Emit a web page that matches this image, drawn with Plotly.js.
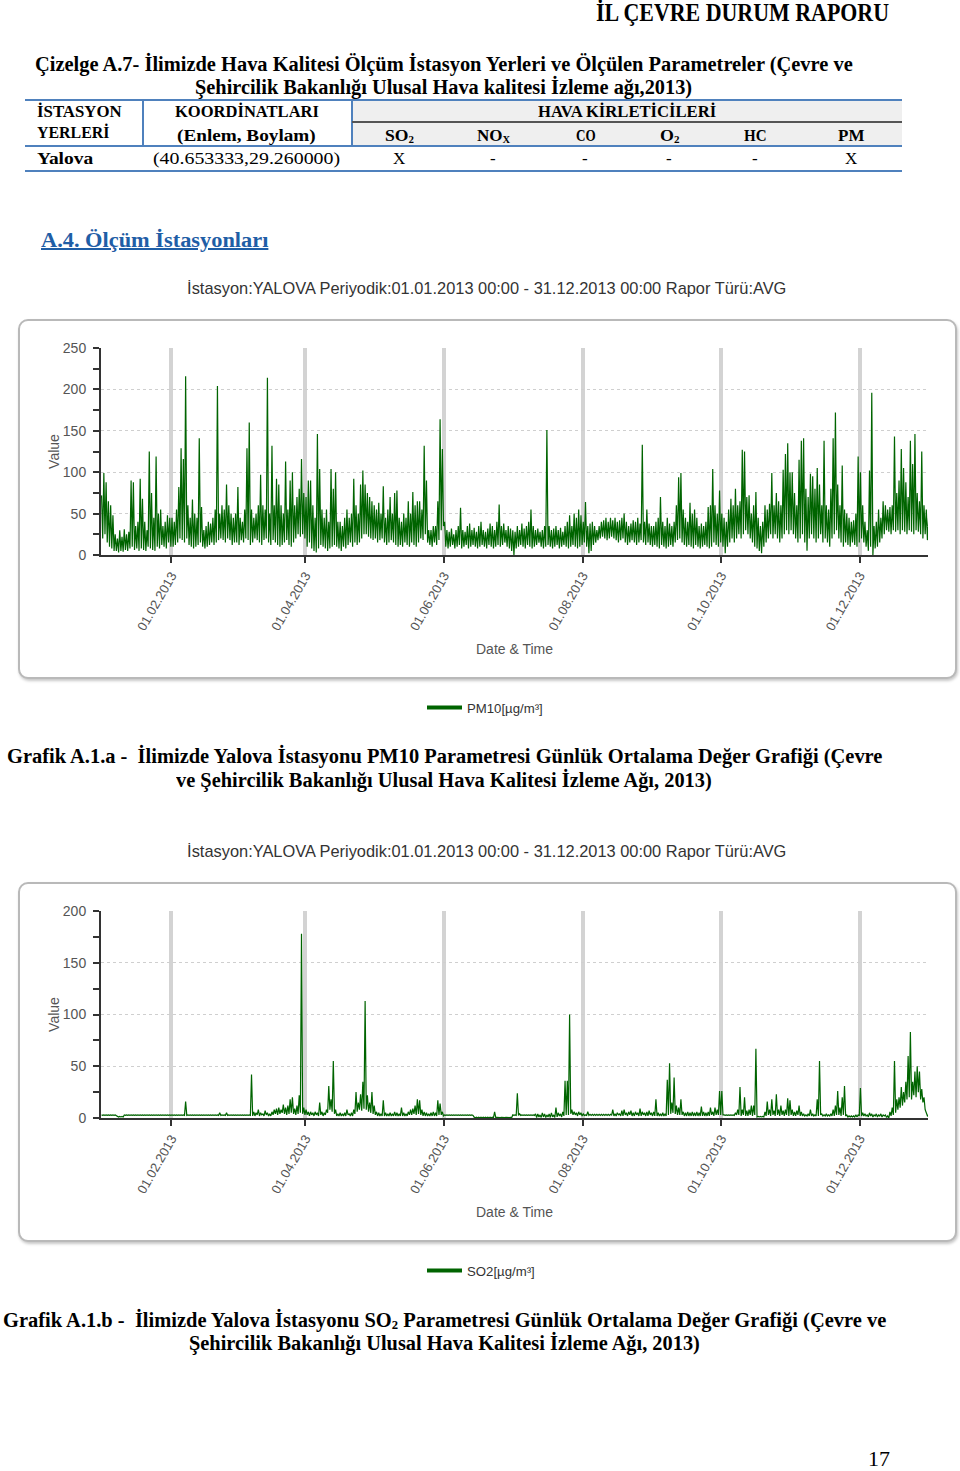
<!DOCTYPE html>
<html>
<head>
<meta charset="utf-8">
<script src="https://cdn.plot.ly/plotly-3.0.1.min.js"></script>
<style>
  body { margin: 0; width: 960px; height: 1471px; position: relative; background: #fff; overflow: hidden; }
  .t { position: absolute; white-space: nowrap; transform-origin: 0 50%; font-family: "Liberation Serif", "Times New Roman", serif; font-weight: bold; color: #000; }
  .t sub { font-size: 0.62em; vertical-align: -0.15em; line-height: 0; }
  .ln { position: absolute; }
  .box { position: absolute; left: 18px; width: 935px; height: 356px; border: 2px solid #b9b9b9; border-radius: 10px; box-shadow: 1px 2px 3px rgba(0,0,0,0.22); background: #fff; }
  .chart { position: absolute; left: 0; width: 960px; height: 460px; }
</style>
</head>
<body>
<div class="box" style="top:319px"></div>
<div class="box" style="top:882px"></div>
<div id="chartPM" class="chart" style="top:265px"></div>
<div id="chartSO2" class="chart" style="top:828px"></div>
<script>
// ---- data (two readings per day: daily peak, daily trough) ----
const monthNames = ['Jan','Feb','Mar','Apr','May','Jun','Jul','Aug','Sep','Oct','Nov','Dec'];

const pm10Peaks = [
  [72,99,88,65,60,48,25,20,30,22,31,25,28,90,88,35,40,92,68,40,30,125,75,45,119,50,55,35,40,48,45],     // Jan
  [45,40,55,82,129,116,216,60,45,67,50,45,141,58,30,35,40,38,45,55,204,50,60,55,85,60,50,45],            // Feb
  [50,82,45,40,55,129,160,55,45,50,60,97,60,55,214,50,132,60,92,85,60,50,113,55,90,100,60,70,80,116,75], // Mar
  [70,90,90,60,45,146,104,55,45,55,40,104,80,100,40,40,35,45,55,45,50,92,60,50,85,102,85,75,70,65],      // Apr
  [60,55,63,50,83,45,55,70,50,75,78,45,40,50,45,65,50,76,60,65,65,55,132,90,30,30,35,35,65,164,128],     // May
  [40,30,28,32,25,30,35,57,30,28,35,38,30,33,28,35,40,30,28,32,38,35,30,40,61,35,38,30,35,32],           // Jun
  [30,28,35,30,38,32,35,40,55,35,30,32,28,30,35,151,35,30,32,35,30,33,28,35,40,48,35,50,45,55,48],       // Jul
  [40,64,35,38,40,35,30,35,40,42,45,40,45,42,45,40,42,45,50,40,35,38,42,40,45,38,133,40,55,38,35],       // Aug
  [35,40,45,70,40,35,45,38,35,40,60,94,99,55,45,40,63,50,55,45,35,38,35,40,58,60,104,60,50,78],          // Sep
  [50,45,40,55,68,60,80,60,65,127,125,70,72,50,60,76,45,35,40,60,55,62,99,60,75,65,60,103,122,135,100],  // Oct
  [100,75,60,115,138,141,80,70,98,95,80,105,85,60,138,60,55,80,141,172,85,60,108,55,50,45,40,42,50,119], // Nov
  [100,60,40,30,102,196,35,40,55,45,65,60,55,58,60,143,75,90,128,105,88,70,138,110,146,75,65,125,60,55,45] // Dec
];
const pm10Troughs = [
  [20,25,15,10,8,5,5,3,5,4,6,5,8,10,6,8,5,8,6,5,10,8,6,5,10,8,12,10,8,15,10],
  [10,12,15,20,18,15,20,12,10,8,10,12,15,10,8,10,12,15,12,15,18,20,18,15,20,18,12,15],
  [15,12,18,15,20,18,12,15,20,18,15,12,18,20,15,12,18,15,12,10,12,15,18,12,10,15,20,25,22,25,20],
  [10,15,8,5,3,8,12,10,8,5,8,10,12,10,8,5,10,8,12,15,10,15,12,15,20,25,25,22,20,18],
  [20,15,18,20,15,12,15,18,15,12,10,12,10,15,12,10,15,12,10,15,20,18,25,15,12,10,15,12,18,30,35],
  [10,8,10,12,8,10,12,8,10,12,8,10,12,10,8,10,12,10,8,12,10,8,10,12,10,12,15,10,8,5],
  [0,8,10,12,10,8,12,10,8,10,12,15,10,8,10,12,10,8,10,12,8,10,12,10,8,10,12,10,8,10,12],
  [15,10,2,5,12,15,18,20,22,20,18,20,22,20,18,15,18,20,15,12,15,18,15,12,15,18,15,12,15,12,10],
  [12,10,8,12,10,8,10,12,10,15,18,20,15,12,10,12,10,8,12,10,8,10,12,10,8,10,15,12,10,15],
  [10,2,10,15,20,15,20,25,20,25,30,25,20,15,10,8,5,2,10,15,20,25,20,25,20,15,20,25,30,25,30],
  [25,20,15,20,25,15,5,20,25,20,15,20,25,15,20,15,10,20,25,30,20,15,10,15,12,10,15,12,10,15],
  [20,15,10,5,10,0,8,10,15,20,25,30,28,25,30,28,30,25,30,28,25,30,28,25,30,28,25,20,25,18,15]
];

const so2Peaks = [
  [3,3,3,3,3,3,3,1.5,1.5,1.5,3,3,3,3,3,3,3,3,3,3,3,3,3,3,3,3,3,3,3,3,3],
  [3,3,3,3,3,3,16,3,3,3,3,3,3,3,3,3,3,3,3,3,3,5,3,3,5,3,3,3],
  [3,3,3,3,3,3,3,42,6,5,8,5,4,7,5,4,6,8,9,10,8,13,10,12,18,20,9,12,22,178,10],
  [8,6,6,5,6,5,15,6,5,8,31,18,55,8,4,5,4,5,8,4,5,8,25,15,23,35,113,22,15,25],
  [12,6,5,4,17,5,4,5,4,6,5,4,10,5,4,6,8,9,12,18,17,8,6,5,4,5,6,5,17,14,6],
  [3,3,3,3,3,3,3,3,3,3,3,3,3,0.8,0.8,0.8,0.8,0.8,0.8,0.8,0.8,0.8,6,0.6,0.6,0.6,0.6,0.6,0.6,0.6],
  [3,3,24,4,3,3,3,3,3,3,4,4,3,5,4,3,4,5,3,10,5,4,6,36,36,100,8,6,5,6,5],
  [4,3,6,3.5,3.5,3.5,3.5,3.5,3.5,3.5,3.5,3.5,3.5,8,4,5,4,7,8,5,6,7,5,6,5,9,6,5,6,7,5],
  [6,18,5,4,5,4,37,53,15,39,12,10,18,6,5,6,5,6,5,6,5,11,6,5,6,10,6,10,8,26],
  [26,3,3,3,3,3,5,8,30,8,20,7,8,12,12,67,1.5,1.5,1.5,6,16,8,18,7,23,8,12,7,8,19,17],
  [8,6,7,12,6,4,3,4,8,4,3,18,55,4,3,4,3,4,8,12,26,10,20,31,3,2,2,2,3,3],
  [29,5,4,3,5,4,3,4,3,4,3,3,2,6,10,55,18,20,30,25,35,60,83,35,45,50,45,28,20,5,3]
];
const so2Troughs = [
  [2.5,2.5,2.5,2.5,2.5,2.5,2.5,1,1,1,2.5,2.5,2.5,2.5,2.5,2.5,2.5,2.5,2.5,2.5,2.5,2.5,2.5,2.5,2.5,2.5,2.5,2.5,2.5,2.5,2.5],
  [2.5,2.5,2.5,2.5,2.5,2.5,2.5,2.5,2.5,2.5,2.5,2.5,2.5,2.5,2.5,2.5,2.5,2.5,2.5,2.5,2.5,2.5,2.5,2.5,2.5,2.5,2.5,2.5],
  [2.5,2.5,2.5,2.5,2.5,2.5,2.5,2,2,3,2,3,2,3,2,2,3,4,3,4,5,4,3,4,5,4,3,4,5,4,3],
  [3,2,3,2,3,2,3,2,3,5,8,6,4,2,2,2,2,2,3,2,2,4,6,8,7,9,8,6,5,4],
  [3,2,2,2,2,2,2,2,2,2,2,2,2,2,2,3,3,4,3,4,3,2,2,2,2,2,2,2,3,3,2],
  [2.5,2.5,2.5,2.5,2.5,2.5,2.5,2.5,2.5,2.5,2.5,2.5,2.5,0.3,0.3,0.3,0.3,0.3,0.3,0.3,0.3,0.3,0.4,0.3,0.3,0.3,0.3,0.3,0.3,0.3],
  [2.5,2.5,2.5,2.5,2.5,2.5,2.5,2.5,2.5,2.5,0.5,1,0.5,1,0.5,1,0.5,1,0.5,1,2,1,2,3,3,4,3,3,2,3,2],
  [2.5,2.5,2.5,2.5,2.5,2.5,2.5,2.5,2.5,2.5,2.5,2.5,2.5,2,2,3,2,2,3,2,3,2,2,3,2,2,3,2,2,3,2],
  [2,2,2,2,2,2,3,4,5,4,3,3,3,2,2,2,2,2,2,2,2,2,2,2,2,3,2,3,3,3],
  [3,2.5,2.5,2.5,2.5,2.5,3,3,2,3,2,2,3,2,3,1,1,1,1,2,3,2,3,2,3,2,3,2,3,2,3],
  [2,2,3,2,2,2,2,2,2,2,2,2,3,2,2,2,2,2,2,3,3,2,3,2,1,1,1,1,1,2],
  [2,2,2,1,2,1,2,1,2,1,2,0.5,0,2,3,5,8,10,12,15,18,20,18,22,20,25,18,15,8,2,1]
];

const tickDates = ['2013-02-01', '2013-04-01', '2013-06-01', '2013-08-01', '2013-10-01', '2013-12-01'];
const tickLabels = ['01.02.2013', '01.04.2013', '01.06.2013', '01.08.2013', '01.10.2013', '01.12.2013'];
const chartTitle = 'İstasyon:YALOVA Periyodik:01.01.2013 00:00 - 31.12.2013 00:00 Rapor Türü:AVG';

// ---- page text (text, left, right, centre y, font size, style) ----
function put(html, x0, x1, cy, fs, style) {
  const d = document.createElement('div');
  d.className = 't';
  d.innerHTML = html;
  d.style.fontSize = fs + 'px';
  d.style.lineHeight = fs + 'px';
  d.style.top = (cy - 0.55 * fs) + 'px';
  Object.assign(d.style, style || {});
  document.body.appendChild(d);
  const w = d.offsetWidth;
  if (x1 == null) {
    d.style.left = (x0 - w / 2) + 'px';   // centred, unscaled
  } else {
    d.style.left = x0 + 'px';
    d.style.transform = 'scaleX(' + ((x1 - x0) / w).toFixed(4) + ')';
  }
}
function line(x, y, w, h, color) {
  const d = document.createElement('div');
  d.className = 'ln';
  Object.assign(d.style, {left: x + 'px', top: y + 'px', width: w + 'px', height: h + 'px', background: color});
  document.body.appendChild(d);
}

const PLAIN = {fontWeight: 'normal'};
const BLUE = '#4f81bd';

put('İL ÇEVRE DURUM RAPORU', 596, 889, 14, 25);
put('Çizelge A.7- İlimizde Hava Kalitesi Ölçüm İstasyon Yerleri ve Ölçülen Parametreler (Çevre ve', 35, 853, 65, 20);
put('Şehircilik Bakanlığı Ulusal Hava kalitesi İzleme ağı,2013)', 195, 692, 88, 20);

// table
line(352, 101, 550, 45, '#efefef');
line(25, 99, 877, 2, BLUE);
line(142, 100, 2, 46, BLUE);
line(351, 100, 2, 46, BLUE);
line(352, 121, 550, 2, '#555');
line(25, 145, 877, 2, BLUE);
line(25, 170, 877, 2, BLUE);
put('İSTASYON', 37, 122, 112, 17);
put('YERLERİ', 37, 109, 133, 17);
put('KOORDİNATLARI', 175, 319, 112, 17);
put('(Enlem, Boylam)', 177, 316, 136, 17);
put('HAVA KİRLETİCİLERİ', 538, 716, 112, 17);
put('SO<sub>2</sub>', 385, 414, 136, 17);
put('NO<sub>X</sub>', 477, 510, 136, 17);
put('CO', 576, 596, 136, 17);
put('O<sub>2</sub>', 660, 680, 136, 17);
put('HC', 744, 767, 136, 17);
put('PM', 838, 864, 136, 17);
put('Yalova', 37, 93, 159, 17);
put('(40.653333,29.260000)', 153, 340, 159, 17, PLAIN);
put('X', 399, null, 159, 17, PLAIN);
put('-', 493, null, 159, 17, PLAIN);
put('-', 585, null, 159, 17, PLAIN);
put('-', 669, null, 159, 17, PLAIN);
put('-', 755, null, 159, 17, PLAIN);
put('X', 851, null, 159, 17, PLAIN);

put('A.4. Ölçüm İstasyonları', 41, 268, 241, 20, {color: '#1f5ea6', textDecoration: 'underline'});

put('Grafik A.1.a -&nbsp; İlimizde Yalova İstasyonu PM10 Parametresi Günlük Ortalama Değer Grafiği (Çevre', 7, 882, 757, 20);
put('ve Şehircilik Bakanlığı Ulusal Hava Kalitesi İzleme Ağı, 2013)', 176, 712, 781, 20);
put('Grafik A.1.b -&nbsp; İlimizde Yalova İstasyonu SO<sub>2</sub> Parametresi Günlük Ortalama Değer Grafiği (Çevre ve', 3, 886, 1321, 20);
put('Şehircilik Bakanlığı Ulusal Hava Kalitesi İzleme Ağı, 2013)', 189, 700, 1344, 20);
put('17', 868, 890, 1461, 21, PLAIN);

// ---- charts ----
const YEAR_START = Date.UTC(2013, 0, 1);
function buildSeries(peaks, troughs) {
  const x = [], y = [];
  let day = 0;
  peaks.forEach((monthPeaks, m) => {
    monthPeaks.forEach((p, i) => {
      const t = YEAR_START + (day + i) * 864e5;
      x.push(t + 6 * 36e5);  y.push(p);
      x.push(t + 18 * 36e5); y.push(troughs[m][i]);
    });
    day += monthPeaks.length;
  });
  return {x, y};
}

const GREEN = '#006400';

function drawChart(divId, peaks, troughs, legendName, yMax) {
  const s = buildSeries(peaks, troughs);
  const data = [
    { x: s.x, y: s.y, type: 'scatter', mode: 'lines', line: {color: GREEN, width: 1.2}, showlegend: false, name: legendName },
    // legend entry only (thick sample line)
    { x: [null], y: [null], type: 'scatter', mode: 'lines', line: {color: GREEN, width: 4}, name: legendName }
  ];
  const layout = {
    width: 960, height: 460,
    margin: {l: 101, r: 32, t: 83, b: 170},
    paper_bgcolor: 'rgba(0,0,0,0)',
    plot_bgcolor: 'rgba(0,0,0,0)',
    font: {family: '"Liberation Sans", Arial, sans-serif', size: 14, color: '#555'},
    title: {
      text: chartTitle,
      xref: 'container', x: 0.507, xanchor: 'center',
      yref: 'container', y: 1 - 23 / 460, yanchor: 'middle',
      font: {size: 16.4, color: '#333'}
    },
    showlegend: true,
    legend: {
      orientation: 'h',
      xref: 'container', x: 422 / 960, xanchor: 'left',
      yref: 'container', y: 1 - 443 / 460, yanchor: 'middle',
      itemwidth: 35,
      font: {size: 13.2, color: '#333'}, bgcolor: 'rgba(0,0,0,0)'
    },
    xaxis: {
      type: 'date',
      range: ['2013-01-01', '2013-12-31'],
      tickvals: tickDates,
      ticktext: tickLabels,
      tickangle: -60,
      tickfont: {size: 13, color: '#555'},
      ticks: 'outside', ticklen: 6, tickwidth: 2, tickcolor: '#333',
      showline: true, linecolor: '#333', linewidth: 2,
      showgrid: true, gridcolor: '#d3d3d3', gridwidth: 4,
      zeroline: false,
      automargin: false,
      title: {text: 'Date &amp; Time', font: {size: 14, color: '#555'}, standoff: 12}
    },
    yaxis: {
      range: [0, yMax],
      tick0: 0, dtick: 50,
      tickfont: {size: 14, color: '#555'},
      ticks: 'outside', ticklen: 6, tickwidth: 2, tickcolor: '#333',
      ticklabelstandoff: 4,
      minor: {dtick: 25, ticks: 'outside', ticklen: 6, tickwidth: 2, tickcolor: '#333', showgrid: false},
      showline: true, linecolor: '#333', linewidth: 2,
      showgrid: true, gridcolor: '#cfcfcf', gridwidth: 1, griddash: '3px,3px',
      zeroline: false,
      automargin: false,
      title: {text: 'Value', font: {size: 14, color: '#555'}, standoff: 0}
    },
    hovermode: false
  };
  Plotly.newPlot(divId, data, layout, {staticPlot: true, displayModeBar: false});
}

drawChart('chartPM', pm10Peaks, pm10Troughs, 'PM10[µg/m³]', 250);
drawChart('chartSO2', so2Peaks, so2Troughs, 'SO2[µg/m³]', 200);
</script>
</body>
</html>
